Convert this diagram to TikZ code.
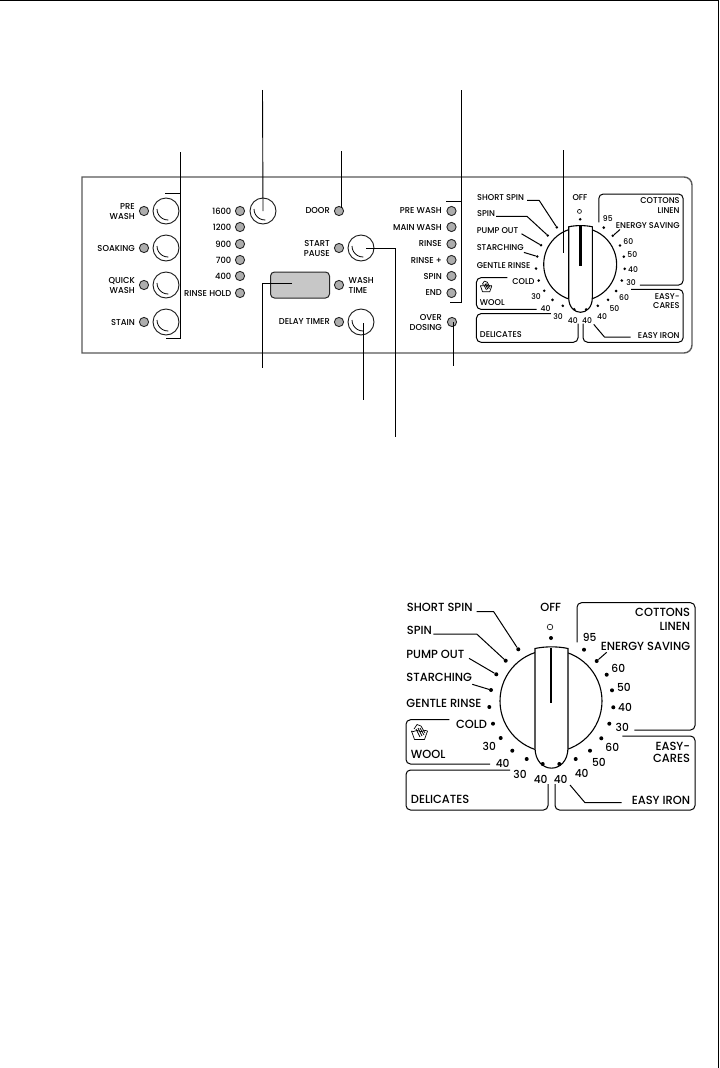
\documentclass[tikz,border=0pt]{standalone}
\usepackage{fontspec}
\setmainfont{Poppins Medium}[FakeStretch=0.97]
\newcommand{\dialtext}[4]{\node[dialtxt,anchor=#1] (#2) at (#3) {#4};}
\newcommand{\dialnum}[3]{\node[dialnumtxt,anchor=center] (#1) at (#2) {#3};}
\newcommand{\dialdot}[2]{\node[dialdot] (#1) at (#2) {};}
\newcommand{\drawdial}{%
  % frames
  \coordinate (cot1) at (577,642.3);
  \coordinate (cot2) at (634.3,730);
  \draw[frame] (cot1) -- (577,602.7) -- (695,602.7) -- (695,730) -- (cot2);
  \coordinate (eas1) at (622.3,736);
  \coordinate (eas2) at (555,784);
  \draw[frame] (eas1) -- (695,736) -- (695,810) -- (555,810) -- (eas2);
  \coordinate (del1) at (510,770);
  \coordinate (del2) at (548,784);
  \draw[frame] (del1) -- (406,770) -- (406,810) -- (548,810) -- (del2);
  \coordinate (woo1) at (449.3,719.7);
  \coordinate (woo2) at (490,764);
  \draw[frame] (woo1) -- (406,719.7) -- (406,764) -- (woo2);
  % knob
  \node[knobc] (knob) at (551,701) {};
  \draw[fill=white,line width=1.1pt] (535,747.5) -- (535,648.5) .. controls (545,646.3) and (558,646.3) .. (568,648.5) -- (568,747.5) .. controls (568,775) and (535,775) .. (535,747.5) -- cycle;
  \coordinate (groove1) at (551,648);
  \coordinate (groove2) at (551,703);
  \draw[line width=2.8pt] (groove1) -- (groove2);
  % off
  \node[opendot] (offc) at (550,627) {};
  \dialdot{d0}{551,638}
  \dialdot{d1}{518.3,649.3}\dialdot{d2}{505.7,660.7}\dialdot{d3}{496.3,674.3}
  \dialdot{d4}{491,690}\dialdot{d5}{489.3,707}\dialdot{d6}{493,723.7}
  \dialdot{d7}{500.7,738}\dialdot{d8}{512.3,750.7}\dialdot{d9}{526.7,759}
  \dialdot{d10}{542.7,764}\dialdot{d11}{559.3,764}\dialdot{d12}{575.7,759}
  \dialdot{d13}{590,750.7}\dialdot{d14}{601.3,738.3}\dialdot{d15}{609.3,723.7}
  \dialdot{d16}{613.3,707.3}\dialdot{d17}{612,690.3}\dialdot{d18}{606.7,674.7}
  \dialdot{d19}{596.7,661}\dialdot{d20}{584,649.7}
  % texts
  \dialtext{west}{tshort}{406.7,607.7}{SHORT SPIN}
  \dialtext{west}{tspin}{406.7,630.7}{SPIN}
  \dialtext{west}{tpump}{406.2,654.3}{PUMP OUT}
  \dialtext{west}{tstarch}{406.2,677.7}{STARCHING}
  \dialtext{west}{tgentle}{406.2,703.3}{GENTLE RINSE}
  \dialtext{east}{tcold}{487.3,724.7}{COLD}
  \dialnum{n30a}{489.3,746}{30}
  \dialtext{west}{twool}{410.7,754}{WOOL}
  \dialnum{n40a}{502.7,763}{40}
  \dialnum{n30b}{520,774.3}{30}
  \dialnum{n40b}{540.7,779.3}{40}
  \dialnum{n40c}{560.7,779.3}{40}
  \dialnum{n40d}{581.7,773.7}{40}
  \dialnum{n50a}{599,762.3}{50}
  \dialnum{n60a}{612.3,747}{60}
  \dialnum{n30c}{622.3,727}{30}
  \dialnum{n40e}{625,707.7}{40}
  \dialnum{n50b}{624,687.3}{50}
  \dialnum{n60b}{618.3,668.7}{60}
  \dialnum{n95}{589.7,637.7}{95}
  \dialtext{east}{tenergy}{690.3,646.7}{ENERGY SAVING}
  \dialtext{east}{tcot}{690.3,612}{COTTONS}
  \dialtext{east}{tlin}{690.3,626.3}{LINEN}
  \dialtext{east}{teas}{690.3,746.3}{EASY-}
  \dialtext{east}{tcar}{690.3,758.7}{CARES}
  \dialtext{east}{tiron}{690.3,800}{EASY IRON}
  \dialtext{west}{tdel}{410.7,799.3}{DELICATES}
  \dialtext{center}{toff}{550.7,607.3}{OFF}
  % leaders
  \coordinate (e1) at (476.7,611.7);
  \coordinate (e2) at (433.3,634);
  \coordinate (e3) at (469,658.3);
  \coordinate (e4) at (472.3,684.3);
  \coordinate (e5) at (606.7,652.3);
  \coordinate (e6) at (570,785);
  \coordinate (e7) at (621.7,802.7);
  \draw[dline] (e1) -- (493.7,611.7) -- (d1);
  \draw[dline] (e2) -- (476.7,634) -- (d2);
  \draw[dline] (e3) -- (d3);
  \draw[dline] (e4) -- (d4);
  \draw[dline] (e5) -- (d19);
  \draw[dline] (e6) -- (585,802.7) -- (e7);
  % wash icon
  \draw[line width=.7pt,line join=round] (411.5,731) -- (414.5,739.5) -- (424.5,739.5) -- (427.5,731);
  \draw[line width=.7pt] (411.5,731) .. controls (414,733) and (416,729) .. (419,731) .. controls (422,733) and (424,729) .. (427.5,731);
  \draw[line width=.7pt,line join=round] (414,729) -- (417,724.5) -- (421,726) -- (425,733);
  \draw[line width=.7pt] (416,729) -- (420,737) (418,728) -- (422,736) (420,728) -- (424,735);
}
\tikzset{
  x=1pt,y=-1pt,
  leader/.style={line width=.9pt,black},
  led/.style={circle,draw=black!85,fill=black!32,line width=.9pt,minimum size=9.2pt,inner sep=0pt},
  btn/.style={circle,draw=black!90,fill=white,line width=.9pt,minimum size=26pt,inner sep=0pt},
  paneltxt/.style={font=\fontsize{8.6}{9.6}\selectfont,inner sep=0pt,align=right},
  dialtxt/.style={font=\fontsize{11.8}{13}\selectfont,inner sep=0pt},
  dialnumtxt/.style={font=\fontsize{11}{13}\selectfont,inner sep=0pt},
  dialdot/.style={circle,fill=black,minimum size=4pt,inner sep=0pt},
  opendot/.style={circle,draw=black,fill=white,line width=.6pt,minimum size=5.6pt,inner sep=0pt},
  knobc/.style={circle,draw=black,fill=white,line width=1.1pt,minimum size=102pt,inner sep=0pt},
  frame/.style={line width=1pt,rounded corners=4.5pt},
  dline/.style={line width=1pt,line join=round},
}
\newcommand{\ubtn}[2]{\node[btn] (#1) at (#2) {};
  \draw[line width=.8pt] (#1.center) ++(-9,-2) arc[start angle=180,end angle=272,radius=11pt];}
\begin{document}
\begin{tikzpicture}
\useasboundingbox (0,0) rectangle (720,1068);
\fill[white] (0,0) rectangle (720,1068);
% page rule
\coordinate (tl) at (0,0.5); \coordinate (tr) at (718.5,0.5); \coordinate (br) at (718.5,1068);
\draw[line width=1pt] (tl) -- (tr) -- (br);
% panel
\draw[line width=1.4pt,draw=black!65] (82,177) -- (684,177) arc[start angle=90,end angle=0,radius=8pt] -- (692,345) arc[start angle=0,end angle=-90,radius=8pt] -- (82,353) -- cycle;
% left column
\foreach \n/\y in {a/211,b/248,c/285,d/322}{
  \node[led] (l\n) at (144,\y) {};
  \ubtn{b\n}{166,\y}
}
\node[paneltxt,anchor=east] (tpre) at (135,211.5) {PRE\\WASH};
\node[paneltxt,anchor=east] (tsoak) at (135,248) {SOAKING};
\node[paneltxt,anchor=east] (tquick) at (135,285.5) {QUICK\\WASH};
\node[paneltxt,anchor=east] (tstain) at (135,322.5) {STAIN};
% speed
\foreach \n/\y/\t in {a/211/1600,b/227/1200,c/244/900,d/260/700,e/276/400,f/293/RINSE HOLD}{
  \node[led] (s\n) at (240,\y) {};
  \node[paneltxt,anchor=east] (st\n) at (231.5,\y) {\t};
}
\ubtn{bs}{263,211}
% middle
\node[led] (ldoor) at (339,211) {};
\node[paneltxt,anchor=east] (tdoor) at (330,211) {DOOR};
\node[led] (lstart) at (339,248) {};
\ubtn{bstart}{361,248}
\node[paneltxt,anchor=east] (tstart) at (330,248.5) {START\\PAUSE};
\node[draw=black!85,fill=black!22,line width=1pt,rounded corners=4pt,minimum width=59pt,minimum height=26pt,inner sep=0pt] (disp) at (300,285) {};
\node[led] (lwash) at (339,285) {};
\node[paneltxt,anchor=west,align=left] (twash) at (348.5,285.5) {WASH\\TIME};
\node[led] (ldelay) at (339,322) {};
\ubtn{bdelay}{361,322}
\node[paneltxt,anchor=east] (tdelay) at (330,322) {DELAY TIMER};
% phases
\foreach \n/\y/\t in {a/211/PRE WASH,b/227/MAIN WASH,c/244/RINSE,d/260/RINSE +,e/276/SPIN,f/293/END}{
  \node[led] (p\n) at (451.5,\y) {};
  \node[paneltxt,anchor=east] (pt\n) at (442,\y) {\t};
}
\node[led] (lover) at (452,322) {};
\node[paneltxt,anchor=east] (tover) at (442,322.5) {OVER\\DOSING};
% small dial
\begin{scope}[xshift=186.2pt,yshift=236.9pt,scale=.715,transform shape,name prefix=sm-]
\drawdial
\end{scope}
% big dial
\begin{scope}[name prefix=lg-]
\drawdial
\end{scope}
% leader lines
\coordinate (c1) at (180,152); \coordinate (c1t) at (165,193); \coordinate (c1b) at (166,338); \coordinate (c1m) at (180,193);
\draw[leader] (c1) -- (180,338) -- (c1b);
\draw[leader] (c1t) -- (c1m);
\coordinate (c2) at (262.5,90);
\draw[leader] (c2) -- (bs.center);
\coordinate (c3) at (341,151);
\draw[leader] (c3) -- (341,208);
\coordinate (c4) at (395,437);
\draw[leader] (bstart.center) ++(5,0) -- (395,248) -- (c4);
\coordinate (c5) at (262.5,368);
\draw[leader] (disp.center) ++(-8,-2) -- (262.5,283) -- (c5);
\coordinate (c6) at (363,400);
\draw[leader] (bdelay.center) ++(2,1) -- (c6);
\coordinate (c7) at (461,90); \coordinate (c7t) at (446,201); \coordinate (c7b) at (450,302);
\draw[leader] (c7) -- (461,302) -- (c7b);
\draw[leader] (c7t) -- (461,201);
\coordinate (c8) at (453,366);
\draw[leader] (lover.center) ++(1,0) -- (c8);
\coordinate (c9) at (563,150); \coordinate (c9e) at (563,253);
\draw[leader] (c9) -- (c9e);
\end{tikzpicture}
\end{document}
